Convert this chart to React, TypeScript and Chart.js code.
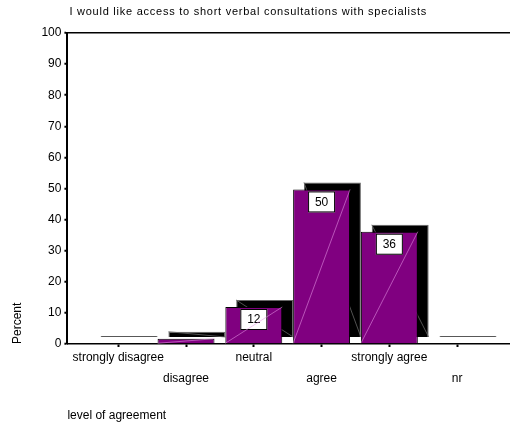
import React, { useEffect, useRef } from "react";
import { Chart, registerables } from "chart.js";

Chart.register(...registerables);

const TITLE = "I would like access to short verbal consultations with specialists";
const CATEGORIES = ["strongly disagree", "disagree", "neutral", "agree", "strongly agree", "nr"];
const PERCENT = [0.3, 1.7, 11.9, 49.7, 36.1, 0.3];
const Y_TICKS = [0, 10, 20, 30, 40, 50, 60, 70, 80, 90, 100];
const X_TITLE = "level of agreement";
const Y_TITLE = "Percent";
const LABEL_MIN = 5;

const X_MIN = -0.75;
const X_MAX = 5.78;
const SHADOW_DX = 0.16;
const SHADOW_DY = 2.25;
const FONT = '"Liberation Sans", Arial, sans-serif';

const catTicks = (s: any) => {
  s.ticks = CATEGORIES.map((_, i) => ({ value: i }));
};

const decorPlugin = {
  id: "decor",
  afterDatasetDraw(chart: any, args: any) {
    if (args.index !== 1) return;
    const ctx = chart.ctx;
    ctx.save();
    args.meta.data.forEach((bar: any, i: number) => {
      if (PERCENT[i] <= 1) return;
      ctx.strokeStyle = "#666";
      ctx.lineWidth = 0.8;
      ctx.beginPath();
      ctx.moveTo(bar.x - bar.width / 2, bar.y);
      ctx.lineTo(bar.x + bar.width / 2, bar.base);
      ctx.stroke();
    });
    ctx.restore();
  },
  afterDatasetsDraw(chart: any) {
    const ctx = chart.ctx;
    const meta = chart.getDatasetMeta(0);
    ctx.save();
    meta.data.forEach((bar: any, i: number) => {
      const v = PERCENT[i];
      if (v >= LABEL_MIN) {
        const text = String(Math.round(v));
        const w = 27;
        const h = 21;
        const top = bar.y + 2;
        ctx.fillStyle = "#fff";
        ctx.fillRect(bar.x - w / 2, top, w, h);
        ctx.strokeStyle = "#000";
        ctx.lineWidth = 1;
        ctx.strokeRect(bar.x - w / 2 + 0.5, top + 0.5, w - 1, h - 1);
        ctx.fillStyle = "#000";
        ctx.font = `12px ${FONT}`;
        ctx.textAlign = "center";
        ctx.textBaseline = "middle";
        ctx.fillText(text, bar.x, top + h / 2 + 0.5);
      }
      if (v > 1) {
        ctx.strokeStyle = "rgba(230,150,230,0.8)";
        ctx.lineWidth = 0.7;
        ctx.beginPath();
        ctx.moveTo(bar.x - bar.width / 2, bar.base);
        ctx.lineTo(bar.x + bar.width / 2, bar.y);
        ctx.stroke();
      }
    });
    // title
    ctx.fillStyle = "#000";
    ctx.font = `11px ${FONT}`;
    try {
      (ctx as any).letterSpacing = "0.75px";
    } catch (e) {}
    ctx.textAlign = "left";
    ctx.textBaseline = "middle";
    ctx.fillText(TITLE, chart.chartArea.left + 2, 12);
    ctx.restore();
  },
};

export default function App() {
  const ref = useRef<HTMLCanvasElement>(null);
  useEffect(() => {
    document.body.style.margin = "0";
    const canvas = ref.current;
    if (!canvas) return;
    const font = { family: FONT, size: 12 };
    const chart = new Chart(canvas, {
      type: "bar",
      data: {
        datasets: [
          {
            label: "front",
            data: PERCENT.map((v, i) => ({ x: i, y: v })),
            backgroundColor: "#800080",
            borderColor: "#000",
            borderWidth: 1,
            grouped: false,
            barPercentage: 0.84,
            categoryPercentage: 1,
            order: 0,
            xAxisID: "x",
            yAxisID: "y",
          },
          {
            label: "shadow",
            data: PERCENT.map((v, i) => ({ x: i, y: v })),
            backgroundColor: "#000",
            borderColor: "#666",
            borderWidth: 1,
            grouped: false,
            barPercentage: 0.84,
            categoryPercentage: 1,
            order: 1,
            xAxisID: "x2",
            yAxisID: "y2",
          },
        ],
      } as any,
      options: {
        responsive: false,
        animation: false,
        layout: { padding: { top: 33, left: 10, right: 0, bottom: 3.6 } },
        plugins: {
          legend: { display: false },
          tooltip: { enabled: false },
          title: { display: false },
        },
        scales: {
          x: {
            type: "linear",
            min: X_MIN,
            max: X_MAX,
            offset: false,
            afterBuildTicks: catTicks,
            ticks: {
              autoSkip: false,
              maxRotation: 0,
              padding: 0,
              color: "#000",
              font: { ...font, lineHeight: 1.75 },
              callback: (v: any) => {
                const i = Math.round(Number(v));
                const name = CATEGORIES[i] ?? "";
                return i % 2 === 1 ? ["", name] : [name];
              },
            },
            grid: { drawOnChartArea: false, offset: false, tickLength: 3, tickColor: "#000", tickWidth: 2 },
            border: { color: "#000", width: 1.5 },
            title: {
              display: true,
              text: X_TITLE,
              align: "start",
              color: "#000",
              font,
              padding: { top: 19, bottom: 0 },
            },
          },
          y: {
            min: 0,
            max: 100,
            afterBuildTicks: (s: any) => {
              s.ticks = Y_TICKS.map((v) => ({ value: v }));
            },
            ticks: { padding: 3, color: "#000", font },
            grid: {
              color: (c: any) => (c.tick && c.tick.value === 100 ? "#000" : "rgba(0,0,0,0)"),
              lineWidth: 1.5,
              tickColor: "#000",
              tickLength: 3,
              tickWidth: 2,
            },
            border: { color: "#000", width: 2 },
            title: {
              display: true,
              text: Y_TITLE,
              align: "start",
              color: "#000",
              font,
              padding: { top: 0, bottom: 14 },
            },
          },
          x2: {
            type: "linear",
            display: false,
            min: X_MIN - SHADOW_DX,
            max: X_MAX - SHADOW_DX,
            offset: false,
            afterBuildTicks: catTicks,
          },
          y2: {
            type: "linear",
            display: false,
            min: -SHADOW_DY,
            max: 100 - SHADOW_DY,
          },
        },
      } as any,
      plugins: [decorPlugin],
    });
    return () => chart.destroy();
  }, []);
  return (
    <div style={{ position: "absolute", left: 0, top: 0, width: 510, height: 426, background: "#fff" }}>
      <canvas ref={ref} width={510} height={426} />
    </div>
  );
}
